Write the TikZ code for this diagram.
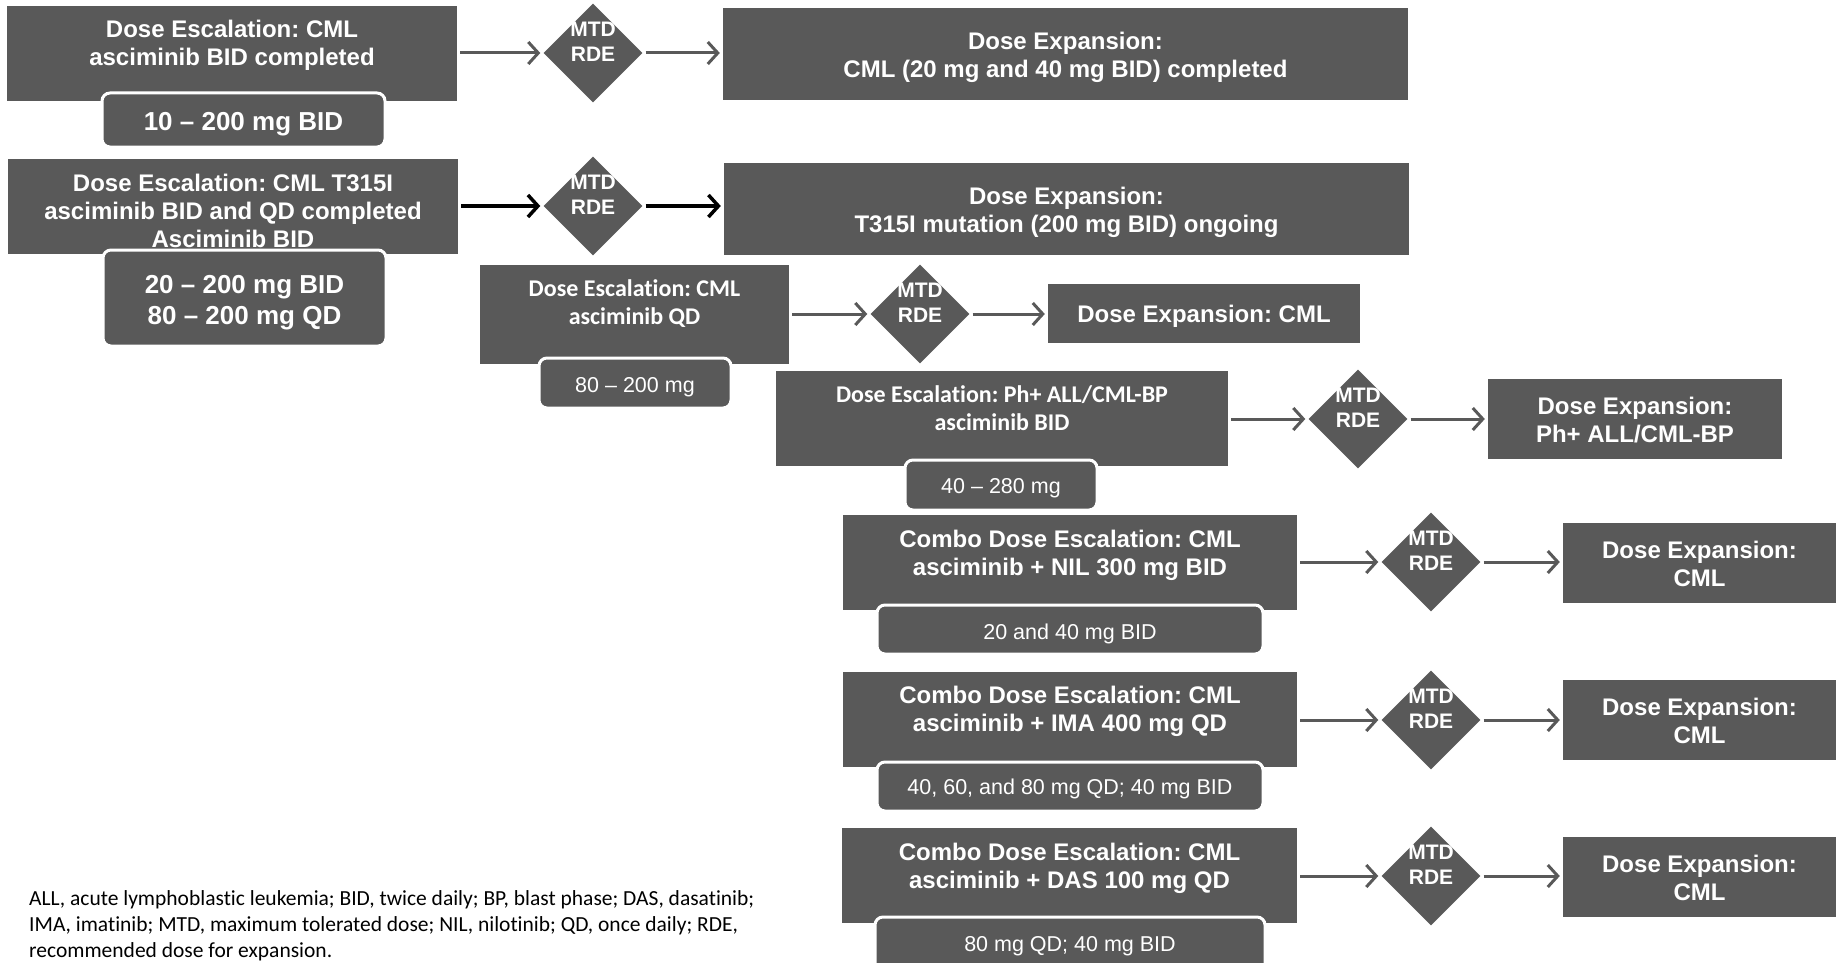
\documentclass[tikz,border=0pt]{standalone}
\usepackage{fontspec}
\setmainfont{Liberation Sans}
\newfontfamily\carlito[Ligatures=NoCommon]{Carlito}
\usetikzlibrary{shapes.geometric, arrows.meta}
\definecolor{boxgray}{HTML}{595959}
\frenchspacing
\tikzset{
  box/.style={fill=boxgray, draw=none, inner sep=0pt},
  pill/.style={fill=boxgray, draw=white, line width=3pt, rounded corners=8pt, inner sep=0pt},
  dia/.style={diamond, fill=boxgray, inner sep=0pt, minimum width=99pt, minimum height=99pt},
  hd/.style={text=white, font=\frenchspacing\bfseries\fontsize{24}{28}\selectfont, align=center, inner sep=0pt},
  hdc/.style={text=white, font=\frenchspacing\carlito\bfseries\fontsize{24}{28}\selectfont, align=center, inner sep=0pt},
  dosebig/.style={text=white, font=\frenchspacing\bfseries\fontsize{26}{31}\selectfont, align=center, inner sep=0pt},
  dose/.style={text=white, font=\frenchspacing\fontsize{21.5}{26}\selectfont, inner sep=0pt},
  dtxt/.style={text=white, font=\bfseries\fontsize{21}{25}\selectfont, align=center, inner sep=0pt},
  arr/.style={draw=boxgray, line width=3pt, shorten <=3pt, shorten >=3pt,
    -{Straight Barb[length=10pt, width=22pt]}},
  arrk/.style={arr, draw=black, line width=3.5pt},
  foot/.style={text=black, font=\frenchspacing\carlito\fontsize{21.5}{25.8}\selectfont, align=left, inner sep=0pt},
}
\begin{document}
\frenchspacing
\begin{tikzpicture}[x=1pt,y=-1pt]
\path[use as bounding box] (0,0) rectangle (1841,963);
\clip (0,0) rectangle (1841,963);

% ---------- escalation boxes
\node[box, minimum width=450pt, minimum height=95pt] (A1) at (232,53.5) {};
\node[box, minimum width=450pt, minimum height=95pt] (A2) at (233,206.5) {};
\node[box, minimum width=309pt, minimum height=99pt] (A3) at (634.5,314) {};
\node[box, minimum width=452pt, minimum height=95pt] (A4) at (1002,418.5) {};
\node[box, minimum width=454pt, minimum height=95pt] (A5) at (1070,562.5) {};
\node[box, minimum width=454pt, minimum height=95pt] (A6) at (1070,719.5) {};
\node[box, minimum width=455pt, minimum height=95pt] (A7) at (1069.5,875.5) {};

% ---------- expansion boxes
\node[box, minimum width=685pt, minimum height=92pt] (E1) at (1065.5,54) {};
\node[box, minimum width=685pt, minimum height=92pt] (E2) at (1066.5,209) {};
\node[box, minimum width=312pt, minimum height=59pt] (E3) at (1204,313.5) {};
\node[box, minimum width=294pt, minimum height=80pt] (E4) at (1635,419) {};
\node[box, minimum width=273pt, minimum height=80pt] (E5) at (1699.5,563) {};
\node[box, minimum width=273pt, minimum height=80pt] (E6) at (1699.5,719.5) {};
\node[box, minimum width=273pt, minimum height=80pt] (E7) at (1699.5,877) {};

% ---------- diamonds
\node[dia] (D1) at (593,53) {};
\node[dia] (D2) at (593,206) {};
\node[dia] (D3) at (920,314) {};
\node[dia] (D4) at (1358,419) {};
\node[dia] (D5) at (1431,562) {};
\node[dia] (D6) at (1431,720) {};
\node[dia] (D7) at (1431,876) {};

% ---------- box texts
\node[hd] (tA1) at (232,45.5) {Dose Escalation: CML\\asciminib BID completed};
\node[hd] (tA2) at (233,211) {Dose Escalation: CML T315I\\asciminib BID and QD completed\\Asciminib BID};
\node[hdc] (tA3) at (634.5,304) {Dose Escalation: CML\\asciminib QD};
\node[hdc] (tA4) at (1002,408) {Dose Escalation: Ph+ ALL/CML-BP\\asciminib BID};
\node[hd] (tA5) at (1070,555) {Combo Dose Escalation: CML\\asciminib + NIL 300 mg BID};
\node[hd] (tA6) at (1070,711.5) {Combo Dose Escalation: CML\\asciminib + IMA 400 mg QD};
\node[hd] (tA7) at (1069.5,868) {Combo Dose Escalation: CML\\asciminib + DAS 100 mg QD};

\node[hd] (tE1) at (1065.5,57) {Dose Expansion:\\CML (20 mg and 40 mg BID) completed};
\node[hd] (tE2) at (1066.5,212.5) {Dose Expansion:\\T315I mutation (200 mg BID) ongoing};
\node[hd] (tE3) at (1204,316) {Dose Expansion: CML};
\node[hd] (tE4) at (1635,420) {Dose Expansion:\\Ph+ ALL/CML-BP};
\node[hd] (tE5) at (1699.5,563.5) {Dose Expansion:\\CML};
\node[hd] (tE6) at (1699.5,721) {Dose Expansion:\\CML};
\node[hd] (tE7) at (1699.5,877.5) {Dose Expansion:\\CML};

\foreach \d in {D1,D2,D3,D4,D5,D6,D7}{
  \node[dtxt] (t\d) at ([yshift=11pt]\d.center) {MTD\\RDE};
}

% ---------- dose pills
\node[pill, minimum width=283pt, minimum height=54pt] (P1) at (243.5,120) {};
\node[pill, minimum width=283pt, minimum height=96pt] (P2) at (244.5,298) {};
\node[pill, minimum width=192pt, minimum height=50pt] (P3) at (635,383) {};
\node[pill, minimum width=192pt, minimum height=50pt] (P4) at (1001,485) {};
\node[pill, minimum width=386pt, minimum height=49pt] (P5) at (1070,629.5) {};
\node[pill, minimum width=386pt, minimum height=49pt] (P6) at (1070,786.5) {};
\node[pill, minimum width=390pt, minimum height=58pt] (P7) at (1070,946) {};

\node[dosebig] (tP1) at (243.5,124.5) {10 -- 200 mg BID};
\node[dosebig] (tP2) at (244.5,303) {20 -- 200 mg BID\\80 -- 200 mg QD};
\node[dose] (tP3) at (635,387) {80 -- 200 mg};
\node[dose] (tP4) at (1001,488) {40 -- 280 mg};
\node[dose] (tP5) at (1070,634) {20 and 40 mg BID};
\node[dose] (tP6) at (1070,789) {40, 60, and 80 mg QD; 40 mg BID};
\node[dose] (tP7) at (1070,946) {80 mg QD; 40 mg BID};

% ---------- connectors
\draw[arr] (A1.east |- D1.center) -- (D1.west);
\draw[arr] (D1.east) -- (D1.east -| E1.west);
\draw[arrk] (A2.east |- D2.center) -- (D2.west);
\draw[arrk] (D2.east) -- (D2.east -| E2.west);
\draw[arr] (A3.east |- D3.center) -- (D3.west);
\draw[arr] (D3.east) -- (D3.east -| E3.west);
\draw[arr] (A4.east |- D4.center) -- (D4.west);
\draw[arr] (D4.east) -- (D4.east -| E4.west);
\draw[arr] (A5.east |- D5.center) -- (D5.west);
\draw[arr] (D5.east) -- (D5.east -| E5.west);
\draw[arr] (A6.east |- D6.center) -- (D6.west);
\draw[arr] (D6.east) -- (D6.east -| E6.west);
\draw[arr] (A7.east |- D7.center) -- (D7.west);
\draw[arr] (D7.east) -- (D7.east -| E7.west);

% ---------- footnote
\node[foot, anchor=west] (fn) at (29,926) {ALL, acute lymphoblastic leukemia; BID, twice daily; BP, blast phase; DAS, dasatinib;\\IMA, imatinib; MTD, maximum tolerated dose; NIL, nilotinib; QD, once daily; RDE,\\recommended dose for expansion.};
\end{tikzpicture}
\end{document}
